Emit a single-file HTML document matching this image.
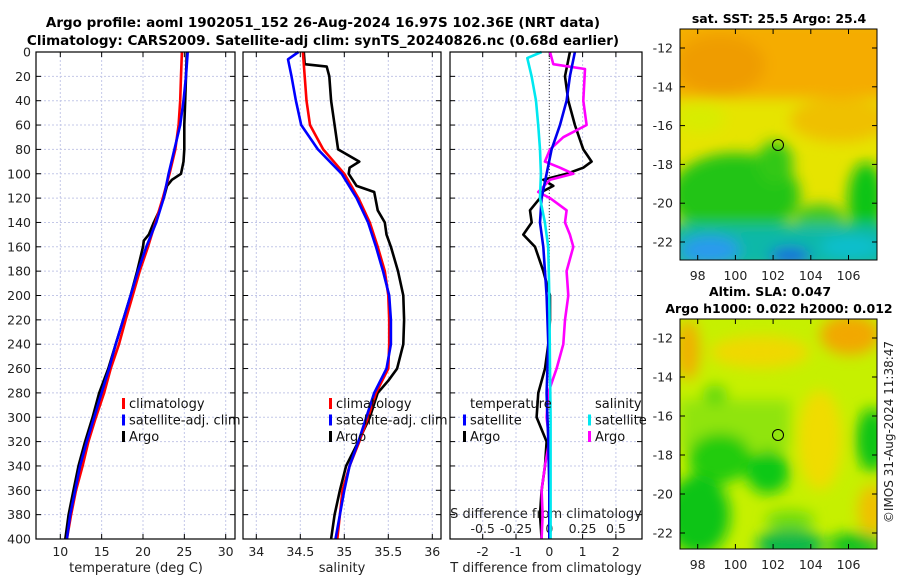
<!DOCTYPE html>
<html><head><meta charset="utf-8"><style>
body{margin:0;background:#fff}
svg{display:block;font-family:"DejaVu Sans","Liberation Sans",sans-serif}
</style></head><body>
<svg id="s" width="900" height="580" viewBox="0 0 900 580">
<defs>
<filter id="bl" x="-50%" y="-50%" width="200%" height="200%"><feGaussianBlur stdDeviation="7"/></filter>
<clipPath id="c1"><rect x="680" y="29" width="197" height="231"/></clipPath>
<clipPath id="c2"><rect x="680" y="319" width="197" height="230"/></clipPath>
</defs>
<text x="323" y="27" text-anchor="middle" font-weight="bold" font-size="13.5">Argo profile: aoml 1902051_152 26-Aug-2024 16.97S 102.36E (NRT data)</text>
<text x="323" y="45" text-anchor="middle" font-weight="bold" font-size="13.5">Climatology: CARS2009. Satellite-adj clim: synTS_20240826.nc (0.68d earlier)</text>

<g clip-path="url(#c1)">
<rect x="680" y="29" width="197" height="231" fill="#e6e400"/>
<g filter="url(#bl)">
<rect x="670" y="20" width="220" height="78" fill="#f5ac00"/>
<ellipse cx="720" cy="65" rx="45" ry="30" fill="#ef9c00"/>
<ellipse cx="840" cy="120" rx="50" ry="22" fill="#efc000"/>
<ellipse cx="700" cy="118" rx="25" ry="15" fill="#d8ec00"/>
<ellipse cx="735" cy="195" rx="65" ry="42" fill="#20c418"/>
<ellipse cx="775" cy="163" rx="18" ry="22" fill="#30c818"/>
<ellipse cx="866" cy="200" rx="18" ry="38" fill="#10c418"/>
<ellipse cx="820" cy="218" rx="25" ry="14" fill="#40c820"/>
<rect x="670" y="225" width="220" height="45" fill="#10b8a8"/>
<ellipse cx="710" cy="250" rx="30" ry="14" fill="#2a9aee"/>
<ellipse cx="790" cy="256" rx="20" ry="8" fill="#1a60e0"/>
<ellipse cx="850" cy="247" rx="30" ry="10" fill="#10c0d0"/>
</g>
</g>
<rect x="680" y="29" width="197" height="231" fill="none" stroke="#000"/>
<circle cx="778" cy="145" r="5.5" fill="none" stroke="#000"/>
<text x="779" y="23" text-anchor="middle" font-weight="bold" font-size="12.5">sat. SST: 25.5 Argo: 25.4</text>

<g clip-path="url(#c2)">
<rect x="680" y="319" width="197" height="230" fill="#c6f000"/>
<g filter="url(#bl)">
<ellipse cx="850" cy="335" rx="30" ry="20" fill="#f2a800"/>
<ellipse cx="688" cy="350" rx="12" ry="30" fill="#f0b000"/>
<ellipse cx="760" cy="352" rx="50" ry="16" fill="#f0d800"/>
<ellipse cx="820" cy="440" rx="22" ry="50" fill="#f0dc00"/>
<ellipse cx="872" cy="510" rx="14" ry="25" fill="#f0c000"/>
<rect x="680" y="400" width="110" height="50" fill="#90e410"/>
<ellipse cx="720" cy="458" rx="32" ry="25" fill="#20cc10"/>
<ellipse cx="768" cy="472" rx="22" ry="22" fill="#10c814"/>
<ellipse cx="872" cy="440" rx="16" ry="32" fill="#10c414"/>
<ellipse cx="698" cy="515" rx="32" ry="40" fill="#10c418"/>
<ellipse cx="790" cy="545" rx="34" ry="16" fill="#10b848"/>
<ellipse cx="855" cy="545" rx="28" ry="12" fill="#10c020"/>
<ellipse cx="715" cy="395" rx="12" ry="10" fill="#60d810"/>
<ellipse cx="790" cy="520" rx="25" ry="10" fill="#70dc10"/>
</g>
</g>
<rect x="680" y="319" width="197" height="230" fill="none" stroke="#000"/>
<circle cx="778" cy="435" r="5.5" fill="none" stroke="#000"/>
<text x="770" y="296" text-anchor="middle" font-weight="bold" font-size="12.5">Altim. SLA: 0.047</text>
<text x="779" y="313" text-anchor="middle" font-weight="bold" font-size="12.5">Argo h1000: 0.022 h2000: 0.012</text>
<text transform="translate(893,432) rotate(-90)" text-anchor="middle" font-size="12" fill="#222">©IMOS 31-Aug-2024 11:38:47</text>
</svg>
<script>
const depths=[0,20,40,60,80,100,120,140,160,180,200,220,240,260,280,300,320,340,360,380,400];
const tempClim=[24.7,24.6,24.5,24.3,23.9,23.2,22.4,21.5,20.6,19.6,18.75,17.9,17.1,16.1,15.3,14.3,13.4,12.7,11.9,11.3,10.8];
const tempSat=[25.4,25.2,24.9,24.5,23.8,23.1,22.5,21.6,20.4,19.4,18.5,17.6,16.7,15.9,15.0,14.1,13.2,12.4,11.8,11.2,10.8];
const argoTDepth=[0,20,40,60,80,90,100,105,110,120,130,140,150,155,160,180,200,220,240,260,280,300,320,340,360,380,400];
const argoTemp=[25.3,25.2,25.1,25.0,25.0,24.9,24.6,23.5,22.9,22.5,22.0,21.3,20.7,20.1,20.0,19.3,18.5,17.6,16.7,15.8,14.7,13.9,13.0,12.2,11.6,11.0,10.6];
const salClim=[34.53,34.55,34.57,34.61,34.76,35.0,35.16,35.29,35.38,35.46,35.50,35.51,35.51,35.50,35.36,35.27,35.17,35.06,34.98,34.95,34.92];
const salSatDepth=[0,6,20,40,60,80,100,120,140,160,180,200,220,240,260,280,300,320,340,360,380,400];
const salSat=[34.48,34.36,34.4,34.45,34.51,34.70,34.97,35.14,35.27,35.36,35.44,35.51,35.53,35.53,35.48,35.34,35.25,35.16,35.06,35.0,34.95,34.9];
const argoSDepth=[0,10,12,20,40,60,80,90,95,100,110,115,130,140,150,160,180,200,220,240,260,270,280,300,320,340,360,380,400];
const argoSal=[34.54,34.55,34.8,34.83,34.85,34.89,34.93,35.17,35.06,35.05,35.14,35.34,35.38,35.46,35.48,35.53,35.61,35.67,35.68,35.67,35.6,35.5,35.38,35.29,35.16,35.02,34.95,34.89,34.85];
const dTDepth=[0,20,40,60,80,90,95,100,105,110,115,120,130,140,150,160,180,200,220,240,260,280,300,320,340,360,380,400];
const dTArgo=[0.62,0.47,0.57,0.77,1.02,1.27,1.02,0.52,-0.18,0.12,-0.23,-0.28,-0.58,-0.53,-0.78,-0.43,-0.18,0.02,0.02,-0.03,-0.13,-0.33,-0.38,-0.08,-0.13,-0.23,-0.28,-0.23];
const dTSatDepth=[0,20,40,60,80,100,120,140,160,200,240,280,320,360,400];
const dTSat=[0.77,0.62,0.52,0.32,0.07,-0.08,-0.23,-0.28,-0.18,-0.08,-0.03,-0.08,-0.03,0,0];
const dSSatDepth=[0,5,20,40,60,80,100,120,140,160,200,260,300,400];
const dSSat=[-0.058,-0.165,-0.133,-0.1,-0.083,-0.07,-0.063,-0.07,-0.033,-0.008,0,0.005,0.01,0.01];
const dSDepth=[0,10,14,40,60,70,80,90,95,100,105,115,120,130,140,150,160,180,200,220,240,260,280,300,320,340,360,380,400];
const dSArgo=[0.005,0.03,0.268,0.255,0.28,0.105,0.005,-0.033,0.08,0.18,0.005,-0.083,0.005,0.13,0.118,0.155,0.18,0.13,0.143,0.118,0.105,0.055,-0.008,-0.02,0,-0.033,-0.058,-0.05,-0.058];
const depthTicks=[0,20,40,60,80,100,120,140,160,180,200,220,240,260,280,300,320,340,360,380,400];
const tTicks=[10,15,20,25,30];
const sTicks=[34,34.5,35,35.5,36];
const dTTicks=[-2,-1,0,1,2];
const dSTicks=[-0.5,-0.25,0,0.25,0.5];
const latTicks=[-12,-14,-16,-18,-20,-22];
const lonTicks=[98,100,102,104,106];

const NS='http://www.w3.org/2000/svg';
const svg=document.getElementById('s');
function mk(tag,attrs,parent){const e=document.createElementNS(NS,tag);for(const k in attrs)e.setAttribute(k,attrs[k]);(parent||svg).appendChild(e);return e;}
const Y=d=>52+d*1.2175;
const T0=52,B0=539;
const panels=[{x0:36,x1:235,ax:v=>60.3+(v-10)*8.27},{x0:243,x1:441,ax:v=>256.3+(v-34)*88},{x0:450,x1:642,ax:v=>549.3+v*33.3}];
const sx=v=>549.3+v*133.2;
const latY1=l=>48+(-12-l)*19.4, latY2=l=>338+(-12-l)*19.5, lonX=l=>697.7+(l-98)*18.85;

panels.forEach((p,i)=>{
  const g=mk('g',{});
  
  
  depthTicks.forEach(d=>{
    const l=mk('line',{x1:p.x0,x2:p.x1,y1:Y(d),y2:Y(d),stroke:'#c4c8e8','stroke-width':1,'stroke-dasharray':'2,2'},g);
    
    mk('line',{x1:p.x0,x2:p.x0+5,y1:Y(d),y2:Y(d),stroke:'#000'},g);
    mk('line',{x1:p.x1-5,x2:p.x1,y1:Y(d),y2:Y(d),stroke:'#000'},g);
  });
  const ticks=i==0?tTicks:i==1?sTicks:dTTicks;
  ticks.forEach(t=>{
    const x=p.ax(t);
    const l=mk('line',{x1:x,x2:x,y1:T0,y2:B0,stroke:'#c4c8e8','stroke-dasharray':'2,2'},g);
    
    mk('line',{x1:x,x2:x,y1:B0-5,y2:B0,stroke:'#000'},g);
    mk('line',{x1:x,x2:x,y1:T0,y2:T0+5,stroke:'#000'},g);
    const tx=mk('text',{x:x,y:556,'text-anchor':'middle','font-size':12.5,fill:'#222'},g);
    tx.textContent=t;
    
  });
});
depthTicks.forEach(d=>{
  const t=mk('text',{x:31,y:Y(d)+4.5,'text-anchor':'end','font-size':12.5,fill:'#222'});
  t.textContent=d;
  
});
mk('line',{x1:549.3,x2:549.3,y1:T0,y2:B0,stroke:'#333','stroke-dasharray':'1,2'});
dSTicks.forEach(v=>{
  const t=mk('text',{x:sx(v),y:533,'text-anchor':'middle','font-size':12.5,fill:'#222'});
  t.textContent=v;
  
});
[['temperature (deg C)',136],['salinity',342],['T difference from climatology',546]].forEach(a=>{
  const t=mk('text',{x:a[1],y:572,'text-anchor':'middle','font-size':13,fill:'#222'});
  t.textContent=a[0];
  
});
const st=mk('text',{x:546,y:518,'text-anchor':'middle','font-size':13,fill:'#222'});
st.textContent='S difference from climatology';


function line(xs,ds,fx,col,name,w){
  const pts=xs.map((v,i)=>fx(v).toFixed(1)+','+Y(ds[i]).toFixed(1)).join(' ');
  const e=mk('polyline',{points:pts,fill:'none',stroke:col,'stroke-width':w||2.6,'stroke-linejoin':'round'});
  
  
}
const P=panels;
line(argoTemp,argoTDepth,P[0].ax,'#000','argo-temperature-line');
line(tempClim,depths,P[0].ax,'#ff0000','climatology-temperature-line');
line(tempSat,depths,P[0].ax,'#0000ff','satellite-temperature-line');
line(argoSal,argoSDepth,P[1].ax,'#000','argo-salinity-line');
line(salClim,depths,P[1].ax,'#ff0000','climatology-salinity-line');
line(salSat,salSatDepth,P[1].ax,'#0000ff','satellite-salinity-line');
line(dTArgo,dTDepth,P[2].ax,'#000','argo-t-diff-line');
line(dSArgo,dSDepth,sx,'#ff00ff','argo-s-diff-line');
line(dTSat,dTSatDepth,P[2].ax,'#0000ee','satellite-t-diff-line');
line(dSSat,dSSatDepth,sx,'#00e8f0','satellite-s-diff-line');

panels.forEach(p=>{const r=mk('rect',{x:p.x0,y:T0,width:p.x1-p.x0,height:B0-T0,fill:'none',stroke:'#000','stroke-width':1.2});
});

function legend(x,items,name){
  items.forEach((it,i)=>{
    const y=405+i*16.5;
    if(it[1]){mk('rect',{x:x,y:y-7,width:3,height:11,fill:it[1]});}
    const t=mk('text',{x:x+(it[1]?7:(it[2]||0)),y:y+3,'font-size':13,fill:'#111'});
    t.textContent=it[0];
    
  });
}
legend(122,[['climatology','#ff0000'],['satellite-adj. clim','#0000ff'],['Argo','#000']],'temperature-legend');
legend(329,[['climatology','#ff0000'],['satellite-adj. clim','#0000ff'],['Argo','#000']],'salinity-legend');
legend(463,[['temperature',null,7],['satellite','#0000ff'],['Argo','#000']],'t-diff-legend');
legend(588,[['salinity',null,7],['satellite','#00e8f0'],['Argo','#ff00ff']],'s-diff-legend');

function mapAxes(latY,top,bot,nm){
  latTicks.forEach(l=>{
    const y=latY(l);
    mk('line',{x1:680,x2:685,y1:y,y2:y,stroke:'#000'});mk('line',{x1:872,x2:877,y1:y,y2:y,stroke:'#000'});
    const t=mk('text',{x:673,y:y+4.5,'text-anchor':'end','font-size':12.5,fill:'#222'});
    t.textContent=l;
    
  });
  lonTicks.forEach(l=>{
    const x=lonX(l);
    mk('line',{x1:x,x2:x,y1:bot-5,y2:bot,stroke:'#000'});mk('line',{x1:x,x2:x,y1:top,y2:top+5,stroke:'#000'});
    const t=mk('text',{x:x,y:bot+20,'text-anchor':'middle','font-size':12.5,fill:'#222'});
    t.textContent=l;
    
  });
}
mapAxes(latY1,29,260,'sst-map');
mapAxes(latY2,319,549,'sla-map');
</script>
</body></html>
